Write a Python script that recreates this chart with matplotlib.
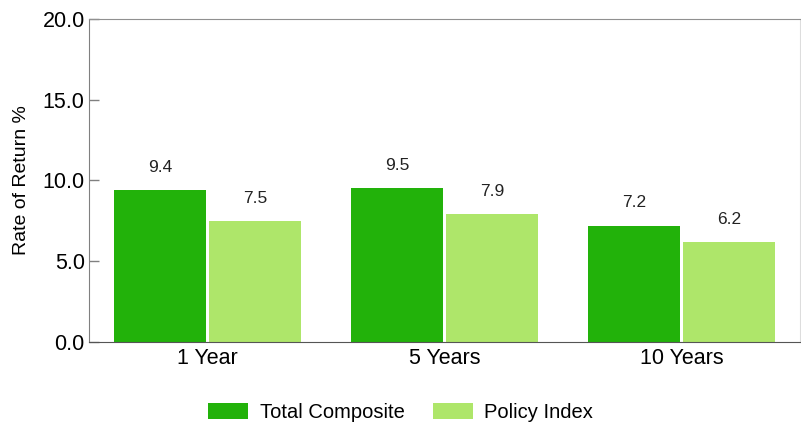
import matplotlib.pyplot as plt
import numpy as np

plt.rcParams['font.family'] = ['Liberation Sans', 'DejaVu Sans']

# Data
periods = ['1 Year', '5 Years', '10 Years']
total_composite = [9.4, 9.5, 7.2]
policy_index = [7.5, 7.9, 6.2]
y_ticks = [0.0, 5.0, 10.0, 15.0, 20.0]

dark_green = '#22B20A'
light_green = '#AEE66A'

fig = plt.figure(figsize=(8.01, 4.28), dpi=100)
ax = fig.add_axes([0.111, 0.201, 0.888, 0.755])

x = np.arange(len(periods))
w = 0.39
b1 = ax.bar(x - 0.2, total_composite, w, color=dark_green, label='Total Composite')
b2 = ax.bar(x + 0.2, policy_index, w, color=light_green, label='Policy Index')

for bars in (b1, b2):
    for rect in bars:
        h = rect.get_height()
        ax.annotate(f'{h:.1f}', xy=(rect.get_x() + rect.get_width() / 2, h),
                    xytext=(0, 11), textcoords='offset points',
                    ha='center', va='bottom', fontsize=12.5, color='#222222')

ax.set_xlim(-0.5, 2.5)
ax.set_ylim(0, 20)
ax.set_yticks(y_ticks)
ax.set_yticklabels([f'{t:.1f}' for t in y_ticks], fontsize=15.5)
ax.set_xticks(x)
ax.set_xticklabels(periods, fontsize=15.5)
ax.tick_params(axis='x', length=0, pad=4)
ax.tick_params(axis='y', direction='in', length=7, width=1, color='#808080', pad=3)
ax.set_ylabel('Rate of Return %', fontsize=14, labelpad=9)

ax.spines['left'].set_color('#808080')
ax.spines['top'].set_color('#909090')
ax.spines['bottom'].set_color('#555555')
ax.spines['right'].set_color('#dddddd')

fig.legend(handles=[b1, b2], loc='lower center', bbox_to_anchor=(0.5, -0.028),
           ncol=2, frameon=False, fontsize=14.5, handlelength=2.0,
           handleheight=0.8, columnspacing=1.4, handletextpad=0.55)

fig.savefig('out.png', dpi=100)
